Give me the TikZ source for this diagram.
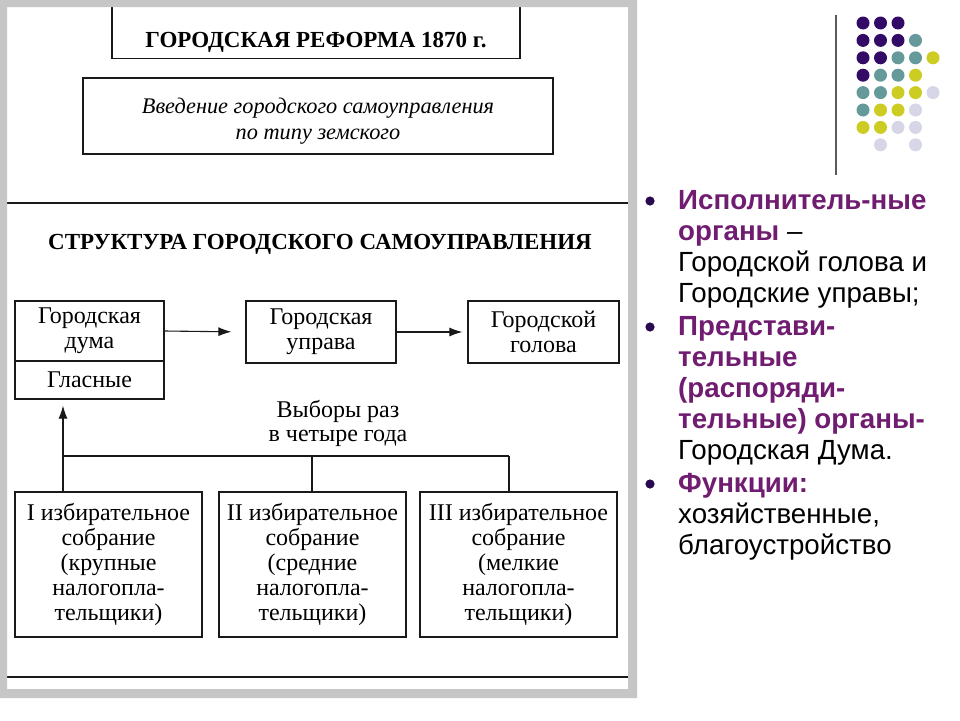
\documentclass[tikz,border=0pt]{standalone}
\usepackage{fontspec}
\setmainfont{Liberation Serif}
\newfontfamily\arialf{Liberation Sans}
\usetikzlibrary{arrows.meta}
\definecolor{framegray}{RGB}{198,198,198}
\definecolor{ink}{RGB}{25,25,25}
\definecolor{dpurple}{RGB}{51,10,102}
\definecolor{dteal}{RGB}{102,153,153}
\definecolor{dyellow}{RGB}{204,204,34}
\definecolor{dlav}{RGB}{214,214,230}
\definecolor{txtpurple}{RGB}{112,28,112}
\definecolor{bulletc}{RGB}{40,10,80}
\definecolor{rule}{RGB}{90,90,90}
\newcommand\hl[1]{\textcolor{txtpurple}{\bfseries #1}}
\begin{document}
\begin{tikzpicture}[x=1pt,y=-1pt,
  box/.style={draw=ink, line width=1.2pt, inner sep=0pt, align=center,
    font=\fontsize{24}{25}\selectfont},
  link/.style={draw=ink, line width=1.1pt},
  arr/.style={link, -{Latex[length=13pt,width=9pt]}},
  side/.style={anchor=north west, inner sep=0pt, align=left,
    font=\arialf\fontsize{27.7}{31}\selectfont},
  heading/.style={inner sep=0pt, font=\bfseries\fontsize{23}{26}\selectfont}]
\useasboundingbox (0,0) rectangle (960,720);
\fill[white] (0,0) rectangle (960,720);

% top boxes
\node[box, anchor=south, minimum width=408, inner ysep=0pt, text height=53pt, text depth=11pt,
  font=\bfseries\fontsize{23}{26}\selectfont] (reform) at (316,59) {ГОРОДСКАЯ РЕФОРМА 1870 г.};
\node[box, minimum width=470, minimum height=76, font=\itshape\fontsize{22.3}{26}\selectfont]
  (intro) at (318,116) {\rule{0pt}{26pt}Введение городского самоуправления\\по типу земского};

\draw[link] (7,203) -- (628,203);

\node[heading] (struct) at (320,244) {СТРУКТУРА ГОРОДСКОГО САМОУПРАВЛЕНИЯ};

% middle row
\node[box, minimum width=149, minimum height=60] (duma) at (89.5,331) {Городская\\дума};
\node[box, minimum width=149, minimum height=38] (glas) at (89.5,380) {Гласные};
\node[box, minimum width=150, minimum height=62] (uprava) at (321,332) {Городская\\управа};
\node[box, minimum width=151, minimum height=62] (golova) at (543.5,332) {Городской\\голова};

\draw[arr, shorten >=14pt] (duma.east) -- (uprava.west);
\draw[arr, shorten >=5pt] (uprava.east) -- (golova.west);

\node[inner sep=0pt, align=center, font=\fontsize{24}{24}\selectfont] (vybory) at (338,423)
  {Выборы раз\\в четыре года};

% bottom row
\node[box, minimum width=187, minimum height=145] (b1) at (108.5,564.5)
  {I избирательное\\собрание\\(крупные\\налогопла-\\тельщики)};
\node[box, minimum width=187, minimum height=145] (b2) at (312.5,564.5)
  {II избирательное\\собрание\\(средние\\налогопла-\\тельщики)};
\node[box, minimum width=197, minimum height=145] (b3) at (518.5,564.5)
  {III избирательное\\собрание\\(мелкие\\налогопла-\\тельщики)};

\coordinate (j1) at (63,456);
\coordinate (j2) at (312,456);
\coordinate (j3) at (509,456);
\draw[link] (j1) -- (j2) -- (j3);
\draw[arr, shorten >=6pt] (b1.north -| j1) -- (glas.south -| j1);
\draw[link] (j2) -- (b2.north -| j2);
\draw[link] (j3) -- (b3.north -| j3);

\draw[link] (7,677) -- (628,677);

% frame
\fill[framegray, even odd rule] (0,0) rectangle (637,698) (7,7) rectangle (628,689);

% right side decoration
\draw[rule, line width=1.5pt] (836,15) -- (836,175);
\foreach \c/\x/\y in {
  dpurple/863/23, dpurple/880.5/23, dpurple/898/23,
  dpurple/863/40.4, dpurple/880.5/40.4, dpurple/898/40.4, dteal/915.5/40.4,
  dpurple/863/57.8, dpurple/880.5/57.8, dteal/898/57.8, dteal/915.5/57.8, dyellow/933/57.8,
  dpurple/863/75.2, dteal/880.5/75.2, dteal/898/75.2, dyellow/915.5/75.2,
  dteal/863/92.6, dteal/880.5/92.6, dyellow/898/92.6, dyellow/915.5/92.6, dlav/933/92.6,
  dteal/863/110, dyellow/880.5/110, dyellow/898/110, dlav/915.5/110,
  dyellow/863/127.4, dyellow/880.5/127.4, dlav/898/127.4, dlav/915.5/127.4,
  dlav/880.5/144.8, dlav/915.5/144.8}
  \fill[\c] (\x,\y) circle[radius=6.5pt];

% right side text
\fill[bulletc] (650,201) circle[radius=4.6pt];
\fill[bulletc] (650,327) circle[radius=4.6pt];
\fill[bulletc] (650,484) circle[radius=4.6pt];
\node[side] (p1) at (678,190)
  {\hl{Исполнитель-ные}\\\hl{органы} –\\Городской голова и\\Городские управы;};
\node[side] (p2) at (678,316)
  {\hl{Представи-}\\\hl{тельные}\\\hl{(распоряди-}\\\hl{тельные) органы-}\\Городская Дума.};
\node[side] (p3) at (678,473)
  {\hl{Функции:}\\хозяйственные,\\благоустройство};
\end{tikzpicture}
\end{document}
